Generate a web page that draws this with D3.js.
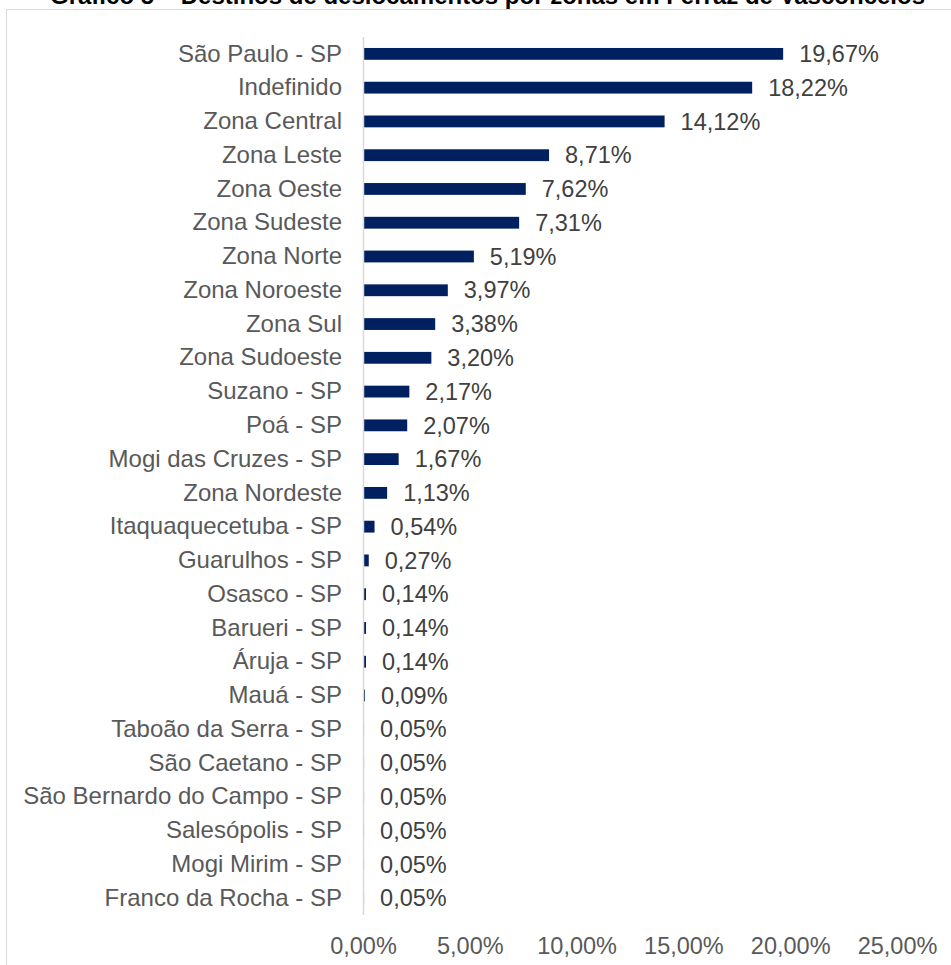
<!DOCTYPE html>
<html><head><meta charset="utf-8">
<script src="https://cdn.jsdelivr.net/npm/d3@7"></script>
<style>html,body{margin:0;padding:0;background:#fff;overflow:hidden}</style>
</head><body>
<svg id="chart" width="951" height="965"></svg>
<script>
const title = "Gráfico 5 – Destinos de deslocamentos por zonas em Ferraz de Vasconcelos";
const categories = ["São Paulo - SP","Indefinido","Zona Central","Zona Leste","Zona Oeste","Zona Sudeste","Zona Norte","Zona Noroeste","Zona Sul","Zona Sudoeste","Suzano - SP","Poá - SP","Mogi das Cruzes - SP","Zona Nordeste","Itaquaquecetuba - SP","Guarulhos - SP","Osasco - SP","Barueri - SP","Áruja - SP","Mauá - SP","Taboão da Serra - SP","São Caetano - SP","São Bernardo do Campo - SP","Salesópolis - SP","Mogi Mirim - SP","Franco da Rocha - SP"];
const values = [19.67,18.22,14.12,8.71,7.62,7.31,5.19,3.97,3.38,3.20,2.17,2.07,1.67,1.13,0.54,0.27,0.14,0.14,0.14,0.09,0.05,0.05,0.05,0.05,0.05,0.05];
const tickValues = [0,5,10,15,20,25];

const svg = d3.select("#chart");
const font = "'Liberation Sans', Arial, sans-serif";
const fmt = v => v.toFixed(2).replace(".", ",") + "%";

// chart border
svg.append("rect").attr("x",6.5).attr("y",9.5).attr("width",1000).attr("height",1000)
  .attr("fill","none").attr("stroke","#d9d9d9").attr("stroke-width",1);

// title (clipped at top, as in the source image)
svg.append("text").attr("x",925).attr("y",4).attr("text-anchor","end")
  .attr("font-family",font).attr("font-weight","bold").attr("font-size",24)
  .attr("fill","#000").text(title);

const x = d3.scaleLinear().domain([0,25]).range([363,897]);
const y = d3.scaleBand().domain(categories).range([37,915]).paddingInner(0.65).paddingOuter(0.325);

// bars
svg.append("g").selectAll("rect").data(values).join("rect")
  .attr("x", x(0))
  .attr("y", (d,i) => y(categories[i]))
  .attr("width", d => x(d) - x(0))
  .attr("height", y.bandwidth())
  .attr("fill", "#002060");

// axis line
svg.append("line").attr("x1",x(0)+0.5).attr("x2",x(0)+0.5).attr("y1",37).attr("y2",915)
  .attr("stroke","#d9d9d9").attr("stroke-width",1.5);

// category labels
const yAxis = d3.axisLeft(y).tickSize(0).tickPadding(21);
const gy = svg.append("g").attr("transform",`translate(${x(0)},0)`).call(yAxis);
gy.select(".domain").remove();
gy.selectAll("text").attr("font-family",font).attr("font-size",24).attr("fill","#595959");

// value labels
svg.append("g").selectAll("text").data(values).join("text")
  .attr("x", d => x(d) + 16)
  .attr("y", (d,i) => y(categories[i]) + y.bandwidth()/2)
  .attr("dy","0.35em")
  .attr("font-family",font).attr("font-size",23.5).attr("fill","#404040")
  .text(d => fmt(d));

// x axis tick labels
const xAxis = d3.axisBottom(x).tickValues(tickValues).tickSize(0).tickPadding(0)
  .tickFormat(d => fmt(d));
const gx = svg.append("g").attr("transform","translate(0,937)").call(xAxis);
gx.select(".domain").remove();
gx.selectAll("text").attr("font-family",font).attr("font-size",23.5).attr("fill","#595959");
</script>
</body></html>
